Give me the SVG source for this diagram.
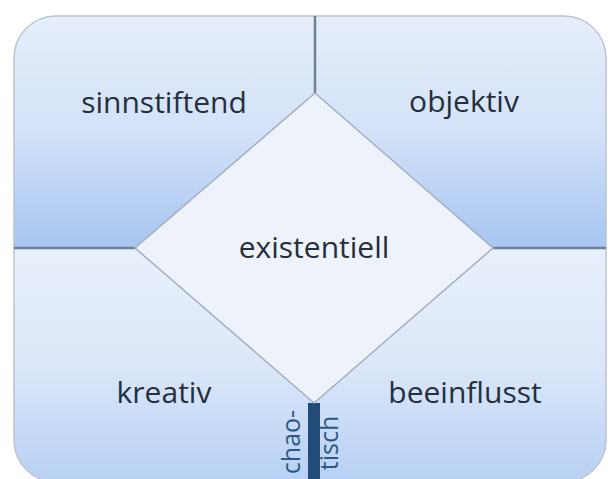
<svg xmlns="http://www.w3.org/2000/svg" width="608" height="479" viewBox="0 0 608 479">
<defs>
<linearGradient id="gTop" x1="0" y1="0" x2="0" y2="1">
<stop offset="0" stop-color="#e6eefa"/>
<stop offset="0.5" stop-color="#d3e2f8"/>
<stop offset="1" stop-color="#a7c5f1"/>
</linearGradient>
<linearGradient id="gBot" x1="0" y1="0" x2="0" y2="1">
<stop offset="0" stop-color="#e9f0fb"/>
<stop offset="0.5" stop-color="#dbe7f9"/>
<stop offset="1" stop-color="#b7d0f4"/>
</linearGradient>
<clipPath id="outer">
<rect x="14" y="16" width="592" height="466" rx="42" ry="42"/>
</clipPath>
</defs>
<style>
.lbl{font-family:"Open Sans","Noto Sans","Liberation Sans",sans-serif;font-size:30px;fill:#252f3c;text-anchor:middle}
.small{font-family:"Open Sans","Noto Sans","Liberation Sans",sans-serif;font-size:25px;fill:#2f5784;text-anchor:middle}
.div{stroke:#6f8099;stroke-width:2.5;fill:none}
</style>
<rect width="608" height="479" fill="#ffffff"/>
<g clip-path="url(#outer)">
<g id="q-sinnstiftend"><rect x="14" y="16" width="301" height="232" fill="url(#gTop)"/></g>
<g id="q-objektiv"><rect x="315" y="16" width="291" height="232" fill="url(#gTop)"/></g>
<g id="q-kreativ"><rect x="14" y="248" width="301" height="234" fill="url(#gBot)"/></g>
<g id="q-beeinflusst"><rect x="315" y="248" width="291" height="234" fill="url(#gBot)"/></g>
</g>
<rect x="14" y="16" width="592" height="466" rx="42" ry="42" fill="none" stroke="#bcc4d0" stroke-width="1.5"/>
<g id="connectors">
<line class="div" x1="315" y1="16" x2="315" y2="93" stroke="#8592a5"/>
<line class="div" x1="14" y1="248" x2="135" y2="248"/>
<line class="div" x1="493" y1="248" x2="606" y2="248"/>
<rect x="308" y="403" width="12" height="76" fill="#214c7a"/>
</g>
<g id="n-existentiell">
<polygon points="315,93 493,248 314,403 135,248" fill="#eef2fb" stroke="#a3afbf" stroke-width="1.5"/>
<text class="lbl" x="314" y="258">existentiell</text>
</g>
<g id="t-sinnstiftend"><text class="lbl" x="164" y="113">sinnstiftend</text></g>
<g id="t-objektiv"><text class="lbl" x="464" y="112">objektiv</text></g>
<g id="t-kreativ"><text class="lbl" x="164" y="403">kreativ</text></g>
<g id="t-beeinflusst"><text class="lbl" x="465" y="403">beeinflusst</text></g>
<g id="t-chaotisch">
<text class="small" transform="translate(300,442) rotate(-90)">chao-</text>
<text class="small" transform="translate(338,443) rotate(-90)">tisch</text>
</g>
</svg>
